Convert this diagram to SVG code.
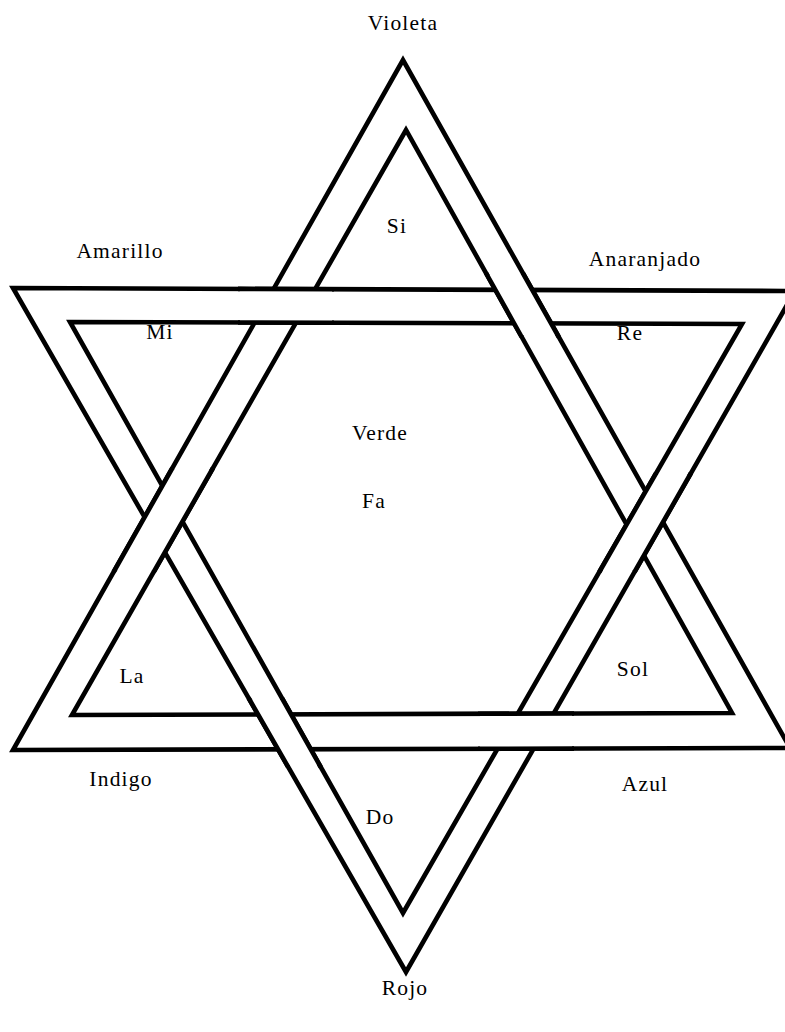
<svg xmlns="http://www.w3.org/2000/svg" width="785" height="1032" viewBox="0 0 785 1032">
<style>
.ln{fill:none;stroke:#000;stroke-width:4.6;stroke-linejoin:miter;stroke-miterlimit:20;stroke-linecap:butt}
.patch{fill:#fff;stroke:none}
.lbl{font-family:"Liberation Serif","DejaVu Serif",serif;font-size:21.5px;fill:#000;text-anchor:middle;letter-spacing:1.2px}
</style>
<rect width="785" height="1032" fill="#fff"/>
<g id="triangle-up">
<polygon class="ln" points="403,60 13,750 790,748"/>
<polygon class="ln" points="406,130 72,715 732,713"/>
</g>
<g id="triangle-down">
<polygon class="ln" points="13,288 795,291 406,972"/>
<polygon class="ln" points="70,322 742,324 403,913"/>
</g>
<g id="interlace">
<polygon class="patch" points="240,288.9 332,289.2 332,322.8 240,322.5"/>
<path class="ln" d="M238,288.9 L334,289.2 M238,322.5 L334,322.8"/>
<polygon class="patch" points="523.9,275 557.7,335 520.6,335 487.1,275"/>
<path class="ln" d="M522.8,273 L558.8,337 M486,273 L521.7,337"/>
<polygon class="patch" points="171.3,470 114.7,570 154.8,570 211.9,470"/>
<path class="ln" d="M172.4,468 L113.6,572 M213,468 L153.7,572"/>
<polygon class="patch" points="689.9,475 635.6,570 600.4,570 655.1,475"/>
<path class="ln" d="M691,473 L634.5,572 M656.2,473 L599.3,572"/>
<polygon class="patch" points="249.7,700 287.1,765 319.6,765 283,700"/>
<path class="ln" d="M248.6,698 L288.2,767 M281.9,698 L320.7,767"/>
<polygon class="patch" points="480,748.8 572,748.6 572,713.5 480,713.8"/>
<path class="ln" d="M478,748.8 L574,748.6 M478,713.8 L574,713.5"/>
</g>
<g id="labels">
<text id="t-violeta" class="lbl" x="403" y="30">Violeta</text>
<text id="t-si" class="lbl" x="397" y="233">Si</text>
<text id="t-amarillo" class="lbl" x="120" y="258">Amarillo</text>
<text id="t-anaranjado" class="lbl" x="645" y="266">Anaranjado</text>
<text id="t-mi" class="lbl" x="160" y="339">Mi</text>
<text id="t-re" class="lbl" x="630" y="340">Re</text>
<text id="t-verde" class="lbl" x="380" y="440">Verde</text>
<text id="t-fa" class="lbl" x="374" y="508">Fa</text>
<text id="t-la" class="lbl" x="132" y="683">La</text>
<text id="t-sol" class="lbl" x="633" y="676">Sol</text>
<text id="t-indigo" class="lbl" x="121" y="786">Indigo</text>
<text id="t-azul" class="lbl" x="645" y="791">Azul</text>
<text id="t-do" class="lbl" x="380" y="824">Do</text>
<text id="t-rojo" class="lbl" x="405" y="995">Rojo</text>
</g>
</svg>
